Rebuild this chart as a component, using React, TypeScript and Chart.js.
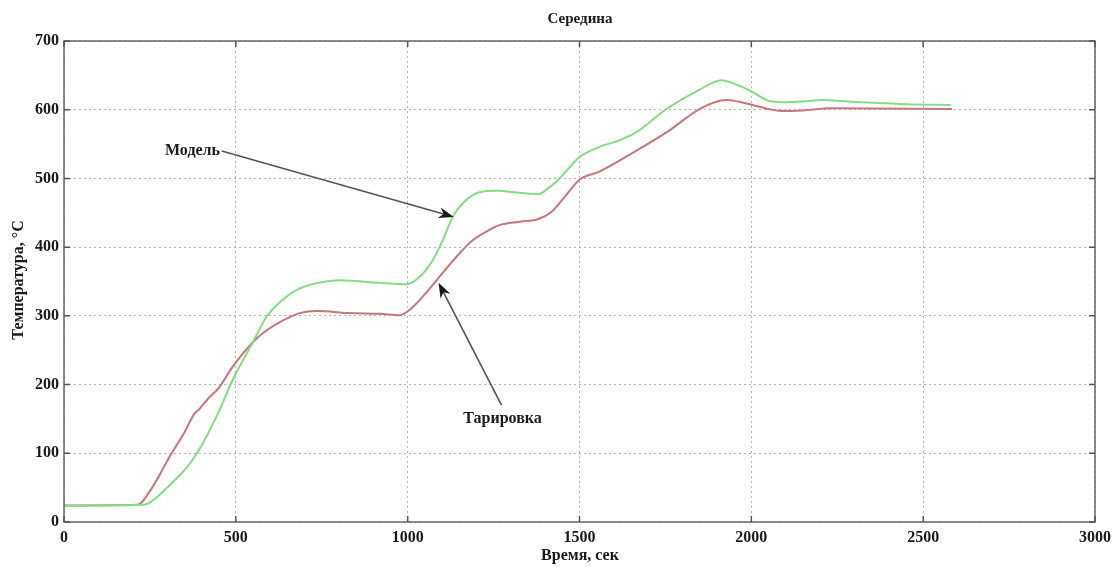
import React, { useEffect, useRef } from "react";
import { Chart, registerables } from "chart.js";

Chart.register(...registerables);

const chartTitle = "Середина";
const xAxisTitle = "Время, сек";
const yAxisTitle = "Температура, °С";

const modelTime = [0, 230, 260, 300, 350, 387, 450, 491, 550, 590, 640, 686, 750, 802, 919, 997, 1035, 1073, 1102, 1131, 1171, 1209, 1259, 1326, 1380, 1410, 1442, 1500, 1558, 1620, 1674, 1750, 1849, 1913, 1950, 2003, 2050, 2090, 2150, 2206, 2280, 2352, 2450, 2580];
const modelTemp = [24, 25, 32, 50, 75, 100, 160, 207, 262, 299, 325, 340, 349, 352, 348, 346, 357, 381, 410, 444, 469, 480, 482, 479, 477, 486, 500, 531, 546, 556, 570, 600, 629, 643, 638, 626, 613, 611, 612, 614, 612, 610, 608, 607];

const calibTime = [0, 215, 250, 313, 350, 380, 395, 420, 450, 491, 550, 590, 640, 686, 735, 831, 919, 977, 1006, 1044, 1093, 1142, 1189, 1238, 1267, 1326, 1380, 1420, 1460, 1500, 1558, 1654, 1762, 1849, 1927, 1960, 2003, 2090, 2150, 2235, 2584];
const calibTemp = [24, 25, 45, 100, 130, 158, 165, 180, 195, 226, 262, 279, 294, 304, 307, 304, 303, 301, 309, 328, 357, 386, 410, 425, 432, 437, 441, 452, 475, 498, 510, 537, 570, 601, 614, 612, 607, 598, 599, 602, 601];

const xTicks = [0, 500, 1000, 1500, 2000, 2500, 3000];
const yTicks = [0, 100, 200, 300, 400, 500, 600, 700];

const modelLabel = "Модель";
const calibLabel = "Тарировка";
// annotation anchors in data coordinates [time, temperature]
const modelLabelPos = [454, 540];
const modelArrowFrom = [459, 540];
const modelArrowTo = [1134, 444];
const calibLabelPos = [1276, 150];
const calibArrowFrom = [1273, 170];
const calibArrowTo = [1090, 348];

const SERIF = "'Liberation Serif', 'DejaVu Serif', serif";

const decorPlugin = {
  id: "decor",
  afterDatasetsDraw(chart: any) {
    const { ctx, chartArea: a, scales } = chart;
    const xs = scales.x, ys = scales.y;
    ctx.save();
    ctx.strokeStyle = "#666";
    ctx.lineWidth = 1.5;
    ctx.setLineDash([]);
    ctx.strokeRect(a.left, a.top, a.right - a.left, a.bottom - a.top);
    ctx.strokeStyle = "#555";
    const tl = 6;
    xTicks.forEach((t) => {
      const px = xs.getPixelForValue(t);
      ctx.beginPath();
      ctx.moveTo(px, a.bottom);
      ctx.lineTo(px, a.bottom - tl);
      ctx.moveTo(px, a.top);
      ctx.lineTo(px, a.top + tl);
      ctx.stroke();
    });
    yTicks.forEach((t) => {
      const py = ys.getPixelForValue(t);
      ctx.beginPath();
      ctx.moveTo(a.left, py);
      ctx.lineTo(a.left + tl, py);
      ctx.moveTo(a.right, py);
      ctx.lineTo(a.right - tl, py);
      ctx.stroke();
    });

    const arrow = (from: number[], to: number[]) => {
      const x1 = xs.getPixelForValue(from[0]);
      const y1 = ys.getPixelForValue(from[1]);
      const x2 = xs.getPixelForValue(to[0]);
      const y2 = ys.getPixelForValue(to[1]);
      const ang = Math.atan2(y2 - y1, x2 - x1);
      const hl = 15, hw = 5.5;
      const c = Math.cos(ang), s = Math.sin(ang);
      ctx.strokeStyle = "#555";
      ctx.lineWidth = 1.6;
      ctx.beginPath();
      ctx.moveTo(x1, y1);
      ctx.lineTo(x2 - c * hl * 0.7, y2 - s * hl * 0.7);
      ctx.stroke();
      ctx.fillStyle = "#1a1a1a";
      ctx.beginPath();
      ctx.moveTo(x2, y2);
      ctx.lineTo(x2 - c * hl + s * hw, y2 - s * hl - c * hw);
      ctx.lineTo(x2 - c * hl * 0.7, y2 - s * hl * 0.7);
      ctx.lineTo(x2 - c * hl - s * hw, y2 - s * hl + c * hw);
      ctx.closePath();
      ctx.fill();
    };
    arrow(modelArrowFrom, modelArrowTo);
    arrow(calibArrowFrom, calibArrowTo);

    ctx.fillStyle = "#1a1a1a";
    ctx.font = `bold 16px ${SERIF}`;
    ctx.textBaseline = "middle";
    ctx.textAlign = "right";
    ctx.fillText(modelLabel, xs.getPixelForValue(modelLabelPos[0]), ys.getPixelForValue(modelLabelPos[1]));
    ctx.textAlign = "center";
    ctx.fillText(calibLabel, xs.getPixelForValue(calibLabelPos[0]), ys.getPixelForValue(calibLabelPos[1]));

    ctx.font = `bold 15px ${SERIF}`;
    ctx.fillText(chartTitle, 580, 19);
    ctx.font = `bold 16px ${SERIF}`;
    ctx.fillText(xAxisTitle, 580, 556);
    ctx.save();
    ctx.translate(19, 280);
    ctx.rotate(-Math.PI / 2);
    ctx.fillText(yAxisTitle, 0, 0);
    ctx.restore();
    ctx.restore();
  },
};

export default function App() {
  const ref = useRef<HTMLCanvasElement | null>(null);
  useEffect(() => {
    if (!ref.current) return;
    const chart = new Chart(ref.current, {
      type: "line",
      data: {
        datasets: [
          {
            label: modelLabel,
            data: modelTime.map((t, i) => ({ x: t, y: modelTemp[i] })),
            borderColor: "#86dc86",
            borderWidth: 2,
            pointRadius: 0,
            cubicInterpolationMode: "monotone",
          },
          {
            label: calibLabel,
            data: calibTime.map((t, i) => ({ x: t, y: calibTemp[i] })),
            borderColor: "#c8767e",
            borderWidth: 2,
            pointRadius: 0,
            cubicInterpolationMode: "monotone",
          },
        ],
      },
      options: {
        animation: false,
        responsive: false,
        events: [],
        layout: { padding: { left: 0, top: 41, right: 20, bottom: 0 } },
        plugins: {
          legend: { display: false },
          title: { display: false },
          tooltip: { enabled: false },
        },
        scales: {
          x: {
            type: "linear",
            min: 0,
            max: 3000,
            afterFit: (s: any) => {
              s.height = 45;
            },
            afterBuildTicks: (s: any) => {
              s.ticks = xTicks.map((v) => ({ value: v }));
            },
            ticks: {
              padding: 6,
              color: "#1a1a1a",
              font: { family: SERIF, size: 16, weight: "bold" },
              maxRotation: 0,
              callback: (v: any) => String(v),
            },
            grid: { color: "#b5b5b5", lineWidth: 1, drawTicks: false },
            border: { display: false, dash: [2, 3] },
          },
          y: {
            type: "linear",
            min: 0,
            max: 700,
            afterFit: (s: any) => {
              s.width = 64;
            },
            afterBuildTicks: (s: any) => {
              s.ticks = yTicks.map((v) => ({ value: v }));
            },
            ticks: {
              padding: 5,
              color: "#1a1a1a",
              font: { family: SERIF, size: 16, weight: "bold" },
              callback: (v: any) => String(v),
            },
            grid: { color: "#b5b5b5", lineWidth: 1, drawTicks: false },
            border: { display: false, dash: [2, 3] },
          },
        },
      },
      plugins: [decorPlugin],
    } as any);
    return () => chart.destroy();
  }, []);
  return (
    <div style={{ position: "fixed", left: 0, top: 0, width: 1117, height: 567, background: "#fff" }}>
      <canvas ref={ref} width={1117} height={567} style={{ display: "block" }} />
    </div>
  );
}
